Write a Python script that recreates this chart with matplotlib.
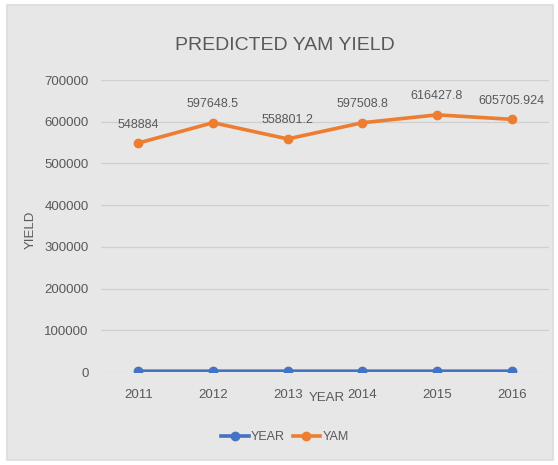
import matplotlib.pyplot as plt
from matplotlib.patches import Rectangle

plt.rcParams['font.family'] = ['Liberation Sans', 'DejaVu Sans']

years = ['2011', '2012', '2013', '2014', '2015', '2016']
year_vals = [2011, 2012, 2013, 2014, 2015, 2016]
yam_vals = [548884, 597648.5, 558801.2, 597508.8, 616427.8, 605705.924]
yam_labels = ['548884', '597648.5', '558801.2', '597508.8', '616427.8', '605705.924']
y_ticks = [0, 100000, 200000, 300000, 400000, 500000, 600000, 700000]

txt = '#595959'
blue = '#4472C4'
orange = '#ED7D31'

fig = plt.figure(figsize=(5.58, 4.65), dpi=100)
fig.patch.set_facecolor('white')
# chart panel
fig.patches.append(Rectangle((7 / 558, 5 / 465), 546 / 558, 455 / 465,
                             transform=fig.transFigure, facecolor='#e7e7e7',
                             edgecolor='#dcdcdc', linewidth=1.2, zorder=-5))

ax = fig.add_axes([101 / 558, 1 - 372 / 465, 448 / 558, 292 / 465])
ax.set_facecolor('none')
ax.set_zorder(2)

x = range(len(years))
ax.plot(x, year_vals, color=blue, lw=2.6, marker='o', ms=6, label='YEAR', zorder=3)
ax.plot(x, yam_vals, color=orange, lw=2.6, marker='o', ms=6, label='YAM', zorder=3)

for i, (v, s) in enumerate(zip(yam_vals, yam_labels)):
    ax.annotate(s, (i, v), xytext=(0, 9), textcoords='offset points',
                ha='center', va='bottom', fontsize=9, color=txt)

ax.set_xlim(-0.5, len(years) - 0.5)
ax.set_ylim(0, 700000)
ax.set_yticks(y_ticks)
ax.set_yticklabels([str(t) for t in y_ticks])
ax.set_xticks(list(x))
ax.set_xticklabels(years)
ax.tick_params(axis='both', length=0, labelsize=9.5, colors=txt)
ax.tick_params(axis='y', pad=9)
ax.tick_params(axis='x', pad=12)
ax.grid(axis='y', color='#cfcfcf', lw=0.9)
ax.set_axisbelow(True)
for sp in ax.spines.values():
    sp.set_visible(False)

ax.set_xlabel('YEAR', fontsize=9.5, color=txt)
ax.xaxis.set_label_coords((327 - 101) / 448, -20 / 292)
ax.set_ylabel('YIELD', fontsize=9.5, color=txt)
ax.yaxis.set_label_coords((37 - 101) / 448, (372 - 230) / 292)

fig.text(285 / 558, 1 - 45 / 465, 'PREDICTED YAM YIELD', ha='center', va='center',
         fontsize=14, color=txt)

leg = fig.legend(loc='center', bbox_to_anchor=(285 / 558, 1 - 437 / 465), ncol=2,
                 frameon=False, fontsize=9, labelcolor=txt, handlelength=2.2,
                 handletextpad=0.2, columnspacing=0.6)

fig.savefig('out.png', dpi=100, facecolor=fig.get_facecolor())
